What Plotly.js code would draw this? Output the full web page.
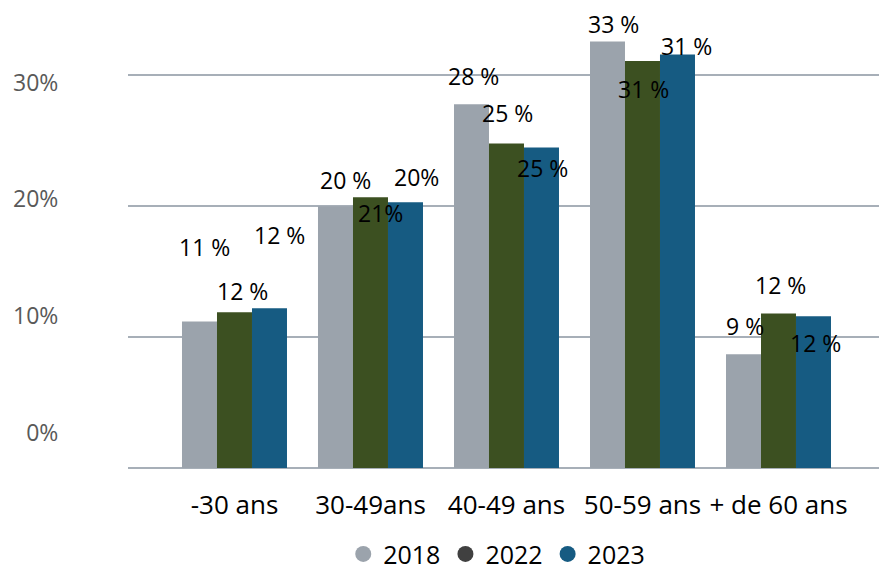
<!DOCTYPE html>
<html>
<head>
<meta charset="utf-8">
<script src="https://cdn.plot.ly/plotly-3.0.1.min.js"></script>
<style>html,body{margin:0;padding:0;background:#fff}</style>
</head>
<body>
<div id="chart" style="width:879px;height:570px"></div>
<script>
// ---- data ----
const categories = ["-30 ans", "30-49ans", "40-49 ans", "50-59 ans", "+ de 60 ans"];
const seriesNames = ["2018", "2022", "2023"];
const values2018 = [11.2, 20.0, 27.8, 32.6, 8.7];
const values2022 = [11.9, 20.7, 24.8, 31.1, 11.8];
const values2023 = [12.2, 20.3, 24.5, 31.6, 11.6];
const labels2018 = ["11 %", "20 %", "28 %", "33 %", "9 %"];
const labels2022 = ["12 %", "21%", "25 %", "31 %", "12 %"];
const labels2023 = ["12 %", "20%", "25 %", "31 %", "12 %"];
const yTickVals = [0, 10, 20, 30];
const yTickText = ["0%", "10%", "20%", "30%"];

// ---- style ----
const FONT = "'Open Sans', 'DejaVu Sans', sans-serif";
const barColors = ["#9BA3AC", "#3C5021", "#165B82"];
const legendColors = ["#9BA3AC", "#404040", "#165B82"];
const gridColor = "#A7AFB8";
// label nudges in pixels [dx, dy-up] relative to each bar top (style only)
const nudge = [
  [[5, 74], [10, 26], [2, 28], [6, 17], [1, 28]],
  [[8, 21], [10, -16], [1, 30], [1, -28], [2, 29]],
  [[10, 73], [11, 25], [1, -21], [9, 8], [2, -27]]
];
const bargap = 0.228;

const allValues = [values2018, values2022, values2023];
const allLabels = [labels2018, labels2022, labels2023];

const traces = [];
allValues.forEach((vals, j) => {
  traces.push({
    type: "bar", name: seriesNames[j], x: categories, y: vals,
    marker: {color: barColors[j]}, showlegend: false, hoverinfo: "skip"
  });
});
seriesNames.forEach((nm, j) => {
  traces.push({
    type: "scatter", mode: "markers", name: nm, x: [null], y: [null],
    yaxis: j === 0 ? "y2" : "y",
    marker: {color: legendColors[j], size: 16, symbol: "circle"},
    showlegend: true, hoverinfo: "skip"
  });
});

const groupW = 1 - bargap;
const annotations = [];
allValues.forEach((vals, j) => {
  vals.forEach((v, i) => {
    annotations.push({
      x: i + (j - 1) * groupW / 3, y: v, xref: "x", yref: "y",
      text: allLabels[j][i], showarrow: false,
      xanchor: "center", yanchor: "middle",
      xshift: nudge[j][i][0], yshift: nudge[j][i][1],
      font: {family: FONT, size: 23, color: "#000"}
    });
  });
});

const layout = {
  width: 879, height: 570,
  margin: {l: 128, r: 0, t: 10, b: 102, autoexpand: false},
  paper_bgcolor: "#fff", plot_bgcolor: "#fff",
  barmode: "group", bargap: bargap, bargroupgap: 0,
  showlegend: true,
  legend: {
    orientation: "h", x: 0.491, xanchor: "center", y: -0.138, yanchor: "top",
    font: {family: FONT, size: 25, color: "#000"}, itemwidth: 30,
    bgcolor: "rgba(0,0,0,0)"
  },
  xaxis: {
    type: "category", range: [-0.783, 4.739], fixedrange: true,
    showgrid: false, zeroline: false, showline: false,
    ticks: "outside", ticklen: 14, tickcolor: "rgba(0,0,0,0)",
    tickfont: {family: FONT, size: 26, color: "#000"}
  },
  yaxis: {
    range: [0, 35], dtick: 10, tick0: 0, showticklabels: false,
    showgrid: true, gridcolor: gridColor, gridwidth: 2,
    zeroline: true, zerolinecolor: gridColor, zerolinewidth: 2,
    showline: false, ticks: "", fixedrange: true
  },
  yaxis2: {
    overlaying: "y", side: "left", range: [-3.04, 36.22],
    tickvals: yTickVals, ticktext: yTickText,
    showgrid: false, zeroline: false, showline: false,
    ticks: "outside", ticklen: 64, tickcolor: "rgba(0,0,0,0)",
    tickfont: {family: FONT, size: 23, color: "#595959"}, fixedrange: true
  },
  annotations: annotations
};

Plotly.newPlot("chart", traces, layout, {displayModeBar: false, staticPlot: true});
</script>
</body>
</html>
